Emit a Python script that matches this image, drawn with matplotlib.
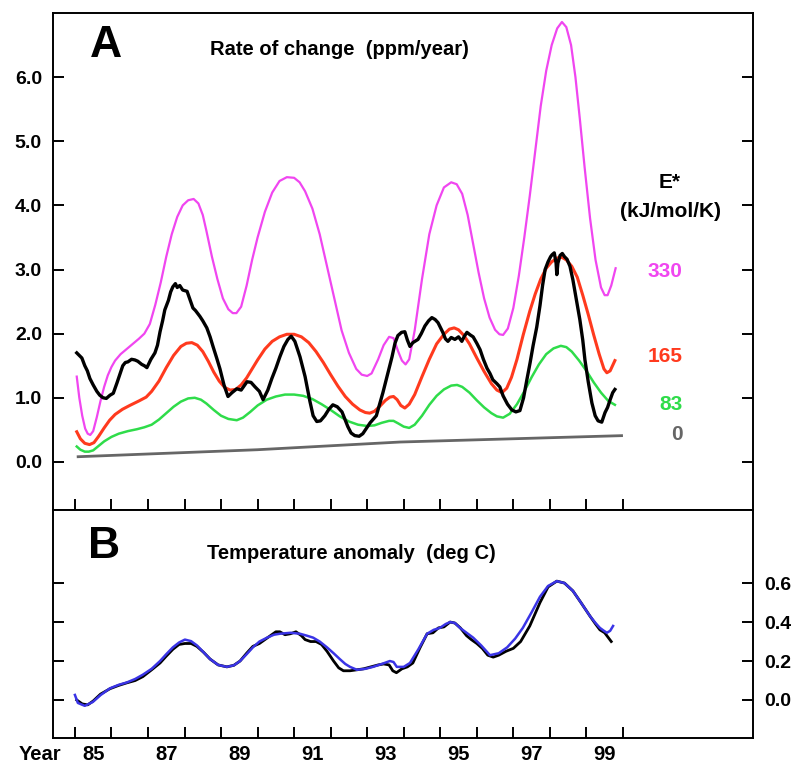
import matplotlib
matplotlib.use("Agg")
import matplotlib.pyplot as plt
from matplotlib.ticker import FixedLocator, FixedFormatter, NullFormatter

plt.rcParams['font.family'] = ['Liberation Sans', 'DejaVu Sans']

# ---------------- Panel A data (ppm/year) ----------------
mag_x = [1985.05, 1985.12, 1985.2, 1985.28, 1985.35, 1985.42, 1985.5, 1985.6, 1985.7, 1985.8,
         1985.9, 1986.0, 1986.1, 1986.25, 1986.5, 1986.75, 1986.9, 1987.05, 1987.2, 1987.35,
         1987.5, 1987.65, 1987.8, 1987.95, 1988.1, 1988.25, 1988.38, 1988.5, 1988.6, 1988.75,
         1988.9, 1989.05, 1989.2, 1989.32, 1989.42, 1989.55, 1989.7, 1989.85, 1990.0, 1990.2,
         1990.4, 1990.6, 1990.8, 1991.0, 1991.15, 1991.3, 1991.5, 1991.7, 1991.9, 1992.1,
         1992.3, 1992.5, 1992.7, 1992.85, 1993.0, 1993.12, 1993.3, 1993.45, 1993.6, 1993.72,
         1993.85, 1993.95, 1994.05, 1994.15, 1994.3, 1994.5, 1994.7, 1994.9, 1995.1, 1995.3,
         1995.45, 1995.6, 1995.75, 1995.9, 1996.05, 1996.2, 1996.35, 1996.5, 1996.62, 1996.72,
         1996.85, 1997.0, 1997.15, 1997.3, 1997.45, 1997.6, 1997.75, 1997.9, 1998.05, 1998.2,
         1998.33, 1998.45, 1998.58, 1998.7, 1998.82, 1998.95, 1999.1, 1999.25, 1999.4, 1999.5,
         1999.58, 1999.68, 1999.8]
mag_y = [1.33, 1.0, 0.72, 0.52, 0.44, 0.42, 0.48, 0.7, 0.95, 1.17,
         1.35, 1.48, 1.58, 1.68, 1.8, 1.92, 2.0, 2.15, 2.45, 2.8,
         3.2, 3.55, 3.82, 4.0, 4.08, 4.1, 4.03, 3.85, 3.6, 3.2,
         2.85, 2.55, 2.38, 2.32, 2.32, 2.42, 2.75, 3.15, 3.5, 3.9,
         4.2, 4.38, 4.44, 4.43, 4.36, 4.22, 3.95, 3.55, 3.05, 2.55,
         2.05, 1.7, 1.45, 1.36, 1.34, 1.38, 1.6, 1.82, 1.95, 1.93,
         1.72, 1.58, 1.52, 1.6, 2.05, 2.85, 3.55, 4.0, 4.28, 4.36,
         4.33, 4.18, 3.85, 3.4, 2.95, 2.55, 2.25, 2.06, 1.99, 1.98,
         2.08, 2.4, 2.9, 3.5, 4.15, 4.85, 5.55, 6.1, 6.5, 6.76,
         6.86, 6.78, 6.5, 6.0, 5.35, 4.6, 3.8, 3.15, 2.72, 2.6,
         2.6, 2.75, 3.02]

red_x = [1985.05, 1985.15, 1985.27, 1985.4, 1985.52, 1985.65, 1985.8, 1985.95, 1986.1, 1986.3,
         1986.5, 1986.75, 1986.95, 1987.1, 1987.3, 1987.5, 1987.7, 1987.9, 1988.05, 1988.2,
         1988.35, 1988.5, 1988.65, 1988.8, 1988.95, 1989.1, 1989.25, 1989.4, 1989.55, 1989.7,
         1989.85, 1990.0, 1990.2, 1990.4, 1990.6, 1990.8, 1991.0, 1991.2, 1991.4, 1991.6,
         1991.8, 1992.0, 1992.2, 1992.4, 1992.6, 1992.8, 1992.95, 1993.07, 1993.2, 1993.35,
         1993.5, 1993.62, 1993.72, 1993.82, 1993.92, 1994.03, 1994.15, 1994.3, 1994.5, 1994.7,
         1994.9, 1995.1, 1995.25, 1995.38, 1995.5, 1995.65, 1995.8, 1996.0, 1996.2, 1996.4,
         1996.55, 1996.69, 1996.82, 1996.95, 1997.1, 1997.27, 1997.45, 1997.6, 1997.75, 1997.9,
         1998.05, 1998.2, 1998.33, 1998.45, 1998.6, 1998.75, 1998.9, 1999.05, 1999.2, 1999.35,
         1999.48, 1999.56, 1999.65, 1999.78]
red_y = [0.47, 0.36, 0.29, 0.27, 0.3, 0.4, 0.53, 0.65, 0.74, 0.82,
         0.88, 0.95, 1.01, 1.1, 1.26, 1.47, 1.66, 1.8, 1.85, 1.86,
         1.82, 1.72, 1.57, 1.4, 1.26, 1.16, 1.12, 1.13, 1.2, 1.31,
         1.45, 1.59, 1.76, 1.88, 1.95, 1.99, 1.99, 1.95, 1.86, 1.72,
         1.55, 1.36, 1.18, 1.02, 0.9, 0.81, 0.77, 0.76, 0.79, 0.87,
         0.96, 1.01, 1.02, 0.97, 0.88, 0.84, 0.9, 1.05, 1.33, 1.6,
         1.84, 1.99, 2.07, 2.09, 2.06, 1.97, 1.84, 1.62, 1.41, 1.22,
         1.12, 1.08, 1.15, 1.32, 1.6, 1.98, 2.35, 2.62, 2.85, 3.02,
         3.12, 3.18, 3.19, 3.15, 3.05, 2.88, 2.6, 2.3, 1.98, 1.68,
         1.45, 1.39, 1.42, 1.58]

grn_x = [1985.05, 1985.15, 1985.27, 1985.38, 1985.5, 1985.65, 1985.8, 1986.0, 1986.2, 1986.45,
         1986.7, 1986.9, 1987.1, 1987.3, 1987.5, 1987.7, 1987.9, 1988.1, 1988.28, 1988.45,
         1988.6, 1988.8, 1989.0, 1989.2, 1989.43, 1989.6, 1989.8, 1990.0, 1990.25, 1990.5,
         1990.75, 1991.0, 1991.25, 1991.5, 1991.75, 1992.0, 1992.25, 1992.5, 1992.75, 1993.0,
         1993.2, 1993.4, 1993.6, 1993.72, 1993.85, 1994.0, 1994.15, 1994.3, 1994.5, 1994.7,
         1994.9, 1995.1, 1995.3, 1995.46, 1995.6, 1995.8, 1996.0, 1996.2, 1996.4, 1996.55,
         1996.72, 1996.9, 1997.1, 1997.3, 1997.5, 1997.7, 1997.9, 1998.1, 1998.3, 1998.45,
         1998.6, 1998.8, 1999.0, 1999.2, 1999.4, 1999.6, 1999.78]
grn_y = [0.24, 0.19, 0.16, 0.16, 0.18, 0.25, 0.32, 0.39, 0.44, 0.48,
         0.51, 0.54, 0.58, 0.66, 0.76, 0.86, 0.94, 0.99, 1.0, 0.97,
         0.91, 0.81, 0.72, 0.67, 0.65, 0.69, 0.78, 0.88, 0.97, 1.02,
         1.05, 1.05, 1.03, 0.98, 0.9, 0.81, 0.71, 0.63, 0.58, 0.56,
         0.57, 0.61, 0.64, 0.64, 0.6, 0.55, 0.53, 0.58, 0.72, 0.89,
         1.03, 1.13, 1.19, 1.2, 1.17, 1.08, 0.96, 0.85, 0.76, 0.71,
         0.69, 0.75, 0.9, 1.1, 1.32, 1.52, 1.68, 1.77, 1.81, 1.79,
         1.72, 1.58, 1.42, 1.24, 1.08, 0.95, 0.89]

gry_x = [1985.05, 1990.0, 1993.9, 2000.0]
gry_y = [0.08, 0.19, 0.31, 0.41]

blk_x = [1985.05, 1985.12, 1985.19, 1985.27, 1985.34, 1985.41, 1985.5, 1985.6, 1985.68, 1985.77,
         1985.86, 1985.96, 1986.05, 1986.15, 1986.22, 1986.31, 1986.38, 1986.45, 1986.55, 1986.64,
         1986.72, 1986.83, 1986.9, 1986.97, 1987.08, 1987.19, 1987.26, 1987.33, 1987.4, 1987.46,
         1987.56, 1987.62, 1987.68, 1987.75, 1987.8, 1987.87, 1987.95, 1988.07, 1988.12, 1988.23,
         1988.3, 1988.42, 1988.5, 1988.61, 1988.7, 1988.78, 1988.88, 1988.97, 1989.08, 1989.19,
         1989.3, 1989.43, 1989.55, 1989.71, 1989.82, 1989.93, 1990.05, 1990.15, 1990.28, 1990.39,
         1990.5, 1990.61, 1990.72, 1990.83, 1990.92, 1991.02, 1991.16, 1991.3, 1991.43, 1991.52,
         1991.62, 1991.72, 1991.84, 1991.95, 1992.06, 1992.18, 1992.31, 1992.47, 1992.56, 1992.66,
         1992.78, 1992.88, 1993.08, 1993.25, 1993.43, 1993.55, 1993.68, 1993.76, 1993.84, 1993.94,
         1994.03, 1994.1, 1994.17, 1994.25, 1994.39, 1994.48, 1994.58, 1994.68, 1994.77, 1994.86,
         1994.94, 1995.07, 1995.14, 1995.21, 1995.3, 1995.4, 1995.5, 1995.59, 1995.66, 1995.73,
         1995.82, 1995.9, 1996.0, 1996.09, 1996.18, 1996.28, 1996.36, 1996.44, 1996.55, 1996.63,
         1996.72, 1996.84, 1996.96, 1997.07, 1997.18, 1997.28, 1997.37, 1997.46, 1997.54, 1997.64,
         1997.73, 1997.8, 1997.87, 1997.95, 1998.02, 1998.06, 1998.12, 1998.17, 1998.19, 1998.22,
         1998.28, 1998.34, 1998.4, 1998.47, 1998.55, 1998.63, 1998.72, 1998.82, 1998.9, 1998.96,
         1999.05, 1999.15, 1999.24, 1999.32, 1999.42, 1999.51, 1999.58, 1999.65, 1999.72, 1999.78]
blk_y = [1.70, 1.66, 1.62, 1.50, 1.42, 1.30, 1.2, 1.10, 1.04, 1.00,
         0.99, 1.04, 1.07, 1.23, 1.35, 1.50, 1.55, 1.56, 1.60, 1.59,
         1.57, 1.52, 1.5, 1.47, 1.6, 1.70, 1.82, 2.03, 2.2, 2.37,
         2.52, 2.65, 2.73, 2.78, 2.72, 2.75, 2.68, 2.66, 2.58, 2.40,
         2.36, 2.27, 2.2, 2.09, 1.95, 1.80, 1.62, 1.45, 1.2, 1.02,
         1.08, 1.14, 1.12, 1.25, 1.24, 1.17, 1.1, 0.97, 1.12, 1.30,
         1.46, 1.64, 1.8, 1.91, 1.96, 1.88, 1.64, 1.33, 0.95, 0.72,
         0.63, 0.64, 0.72, 0.82, 0.89, 0.86, 0.78, 0.55, 0.45, 0.41,
         0.4, 0.44, 0.61, 0.72, 1.08, 1.35, 1.64, 1.85, 1.97, 2.02,
         2.03, 1.9, 1.8, 1.86, 1.91, 2.0, 2.12, 2.2, 2.25, 2.22,
         2.17, 2.02, 1.92, 1.88, 1.94, 1.91, 1.95, 1.88, 1.96, 2.02,
         1.98, 1.95, 1.85, 1.75, 1.6, 1.46, 1.38, 1.28, 1.22, 1.17,
         1.03, 0.9, 0.81, 0.78, 0.8, 1.0, 1.28, 1.55, 1.81, 2.1,
         2.44, 2.75, 3.0, 3.12, 3.2, 3.23, 3.26, 3.1, 2.92, 3.1,
         3.22, 3.25, 3.2, 3.16, 3.05, 2.84, 2.55, 2.22, 1.9, 1.59,
         1.25, 0.92, 0.72, 0.64, 0.62, 0.77, 0.85, 0.97, 1.08, 1.13]

# ---------------- Panel B data (deg C) ----------------
blu_x = [1985.0, 1985.08, 1985.27, 1985.49, 1985.7, 1985.96, 1986.2, 1986.42, 1986.65, 1986.86,
         1987.1, 1987.33, 1987.5, 1987.68, 1987.85, 1988.01, 1988.18, 1988.34, 1988.52, 1988.7,
         1988.92, 1989.16, 1989.35, 1989.52, 1989.7, 1989.87, 1990.05, 1990.26, 1990.45, 1990.61,
         1990.9, 1991.16, 1991.35, 1991.52, 1991.7, 1991.9, 1992.08, 1992.25, 1992.4, 1992.53,
         1992.72, 1992.95, 1993.16, 1993.4, 1993.62, 1993.72, 1993.81, 1994.0, 1994.17, 1994.4,
         1994.64, 1994.82, 1994.99, 1995.15, 1995.27, 1995.4, 1995.54, 1995.72, 1995.9, 1996.12,
         1996.36, 1996.6, 1996.83, 1997.05, 1997.26, 1997.5, 1997.73, 1997.95, 1998.19, 1998.4,
         1998.63, 1998.85, 1999.1, 1999.25, 1999.37, 1999.48, 1999.56, 1999.65, 1999.73]
blu_y = [0.026, -0.015, -0.03, -0.01, 0.025, 0.06, 0.078, 0.09, 0.108, 0.13,
         0.16, 0.2, 0.235, 0.27, 0.295, 0.31, 0.302, 0.28, 0.245, 0.21,
         0.18, 0.17, 0.178, 0.2, 0.235, 0.27, 0.3, 0.32, 0.335, 0.34,
         0.345, 0.34, 0.33, 0.32, 0.3, 0.27, 0.24, 0.21, 0.185, 0.17,
         0.155, 0.16, 0.17, 0.185, 0.2, 0.195, 0.17, 0.17, 0.19, 0.26,
         0.34, 0.36, 0.37, 0.39, 0.40, 0.395, 0.37, 0.345, 0.32, 0.28,
         0.23, 0.24, 0.27, 0.315, 0.37, 0.45, 0.53, 0.585, 0.61, 0.6,
         0.56, 0.5, 0.43, 0.395, 0.37, 0.355, 0.345, 0.355, 0.38]

bkb_x = [1985.05, 1985.2, 1985.35, 1985.5, 1985.7, 1985.96, 1986.2, 1986.42, 1986.65, 1986.86,
         1987.1, 1987.33, 1987.5, 1987.68, 1987.85, 1988.01, 1988.18, 1988.34, 1988.52, 1988.7,
         1988.92, 1989.16, 1989.35, 1989.52, 1989.7, 1989.87, 1990.05, 1990.2, 1990.35, 1990.5,
         1990.61, 1990.75, 1990.9, 1991.05, 1991.2, 1991.3, 1991.45, 1991.6, 1991.75, 1991.9,
         1992.08, 1992.22, 1992.35, 1992.53, 1992.72, 1992.9, 1993.1, 1993.3, 1993.45, 1993.6,
         1993.7, 1993.8, 1993.95, 1994.1, 1994.25, 1994.45, 1994.64, 1994.8, 1994.95, 1995.1,
         1995.27, 1995.4, 1995.55, 1995.72, 1995.85, 1996.0, 1996.15, 1996.3, 1996.45, 1996.6,
         1996.8, 1997.0, 1997.2, 1997.45, 1997.73, 1997.95, 1998.19, 1998.4, 1998.63, 1998.85,
         1999.1, 1999.25, 1999.37, 1999.5, 1999.6, 1999.68]
bkb_y = [0.0, -0.02, -0.025, -0.005, 0.03, 0.058, 0.075, 0.088, 0.1, 0.12,
         0.155, 0.19, 0.225, 0.26, 0.285, 0.29, 0.29, 0.275, 0.245, 0.21,
         0.18, 0.17, 0.178, 0.2, 0.24, 0.275, 0.29, 0.31, 0.33, 0.35,
         0.35, 0.335, 0.34, 0.35, 0.33, 0.31, 0.3, 0.3, 0.285, 0.25,
         0.2, 0.165, 0.15, 0.15, 0.155, 0.16, 0.17, 0.18, 0.185, 0.18,
         0.15, 0.14, 0.16, 0.17, 0.19, 0.27, 0.34, 0.345, 0.37, 0.375,
         0.4, 0.395, 0.37, 0.33, 0.31, 0.29, 0.265, 0.23, 0.22, 0.23,
         0.25, 0.265, 0.3, 0.38, 0.5, 0.58, 0.61, 0.6, 0.56, 0.5,
         0.43, 0.39, 0.36, 0.345, 0.32, 0.3]

year_ticks = list(range(1985, 2001))
year_label_pos = [1985.5, 1987.5, 1989.5, 1991.5, 1993.5, 1995.5, 1997.5, 1999.5]
year_labels = ['85', '87', '89', '91', '93', '95', '97', '99']

a_ticks = [0, 1, 2, 3, 4, 5, 6]
a_labels = ['0.0', '1.0', '2.0', '3.0', '4.0', '5.0', '6.0']
b_ticks = [0.0, 0.2, 0.4, 0.6]
b_labels = ['0.0', '0.2', '0.4', '0.6']

C_MAG = '#f046f0'
C_RED = '#ff3a1e'
C_GRN = '#2fdc4a'
C_GRY = '#666666'
C_BLU = '#3a34e6'

W, H = 797, 766
fig = plt.figure(figsize=(W / 100, H / 100), dpi=100)
axA = fig.add_axes([53 / W, 1 - 510 / H, 700 / W, 497 / H])
axB = fig.add_axes([53 / W, 1 - 738 / H, 700 / W, 228 / H])

xlim = (1984.4, 2003.56)
for ax in (axA, axB):
    ax.set_xlim(*xlim)
    for s in ax.spines.values():
        s.set_linewidth(1.4)
    ax.xaxis.set_major_locator(FixedLocator(year_ticks))
    ax.xaxis.set_major_formatter(NullFormatter())
    ax.tick_params(axis='x', which='major', direction='in', length=8, width=1.4,
                   bottom=True, top=False)

# Panel A
axA.plot(gry_x, gry_y, color=C_GRY, lw=2.0, solid_capstyle='butt')
axA.plot(grn_x, grn_y, color=C_GRN, lw=1.8)
axA.plot(red_x, red_y, color=C_RED, lw=2.2)
axA.plot(mag_x, mag_y, color=C_MAG, lw=1.6)
axA.plot(blk_x, blk_y, color='black', lw=2.4, solid_joinstyle='round')
axA.set_ylim(-0.75, 7.0)
axA.yaxis.set_major_locator(FixedLocator(a_ticks))
axA.yaxis.set_major_formatter(FixedFormatter(a_labels))
axA.tick_params(axis='y', direction='in', length=8, width=1.4, left=True, right=True,
                labelleft=True, labelright=False, pad=8, labelsize=14)
for lab in axA.get_yticklabels():
    lab.set_fontweight('bold')

axA.text(0.053, 0.934, 'A', transform=axA.transAxes, fontsize=32, fontweight='heavy',
         ha='left', va='center')
axA.text(0.224, 0.926, 'Rate of change  (ppm/year)', transform=axA.transAxes,
         fontsize=14.5, fontweight='bold', ha='left', va='center')
axA.text(2001.29, 4.36, 'E*', fontsize=15, fontweight='bold', ha='center', va='center')
axA.text(2001.29, 3.9, '(kJ/mol/K)', fontsize=15, fontweight='bold', ha='center', va='center')
axA.text(2001.64, 2.97, '330', color=C_MAG, fontsize=15, fontweight='bold', ha='right', va='center')
axA.text(2001.64, 1.64, '165', color=C_RED, fontsize=15, fontweight='bold', ha='right', va='center')
axA.text(2001.64, 0.89, '83', color=C_GRN, fontsize=15, fontweight='bold', ha='right', va='center')
axA.text(2001.64, 0.42, '0', color=C_GRY, fontsize=15, fontweight='bold', ha='right', va='center')

# Panel B
axB.plot(bkb_x, bkb_y, color='black', lw=2.0)
axB.plot(blu_x, blu_y, color=C_BLU, lw=1.8)
axB.set_ylim(-0.195, 0.975)
axB.yaxis.set_major_locator(FixedLocator(b_ticks))
axB.yaxis.set_major_formatter(FixedFormatter(b_labels))
axB.tick_params(axis='y', direction='in', length=8, width=1.4, left=True, right=True,
                labelleft=False, labelright=True, pad=8, labelsize=14)
for lab in axB.get_yticklabels():
    lab.set_fontweight('bold')
axB.xaxis.set_minor_locator(FixedLocator(year_label_pos))
axB.xaxis.set_minor_formatter(FixedFormatter(year_labels))
axB.tick_params(axis='x', which='minor', length=0, pad=5, labelsize=14.5)
for lab in axB.get_xticklabels(minor=True):
    lab.set_fontweight('bold')

axB.text(0.05, 0.838, 'B', transform=axB.transAxes, fontsize=32, fontweight='heavy',
         ha='left', va='center')
axB.text(0.22, 0.811, 'Temperature anomaly  (deg C)', transform=axB.transAxes,
         fontsize=14.5, fontweight='bold', ha='left', va='center')
fig.text(40 / W, 1 - 754 / H, 'Year', fontsize=14.5, fontweight='bold', ha='center', va='center')

fig.savefig('out.png', dpi=100)
